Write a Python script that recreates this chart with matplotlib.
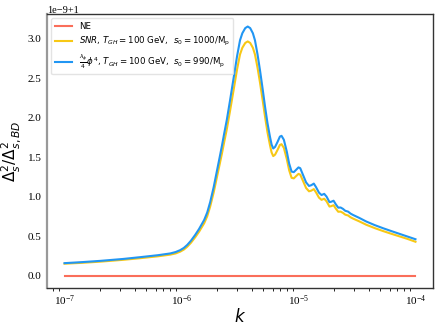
import numpy as np
import matplotlib
matplotlib.use("Agg")
import matplotlib.pyplot as plt

plt.rcParams['font.family'] = 'serif'
plt.rcParams['font.serif'] = ['Liberation Serif', 'DejaVu Serif']
plt.rcParams['mathtext.fontset'] = 'stix'

# log10(k) sample points
log_k = [-7.0, -6.85, -6.693, -6.5, -6.352, -6.2, -6.096, -6.05, -6.011, -5.98,
         -5.951, -5.92, -5.883, -5.85, -5.806, -5.78, -5.755, -5.725, -5.698, -5.675,
         -5.655, -5.635, -5.613, -5.585, -5.557, -5.525, -5.5, -5.48, -5.455, -5.434,
         -5.413, -5.39, -5.372, -5.35, -5.329, -5.307, -5.286, -5.265, -5.244, -5.23,
         -5.216, -5.2, -5.18, -5.159, -5.145, -5.125, -5.1, -5.08, -5.059, -5.04,
         -5.02, -5.0, -4.985, -4.96, -4.935, -4.91, -4.89, -4.869, -4.85, -4.825,
         -4.803, -4.78, -4.76, -4.735, -4.72, -4.7, -4.68, -4.66, -4.64, -4.62,
         -4.6, -4.576, -4.555, -4.534, -4.48, -4.42, -4.35, -4.278, -4.2, -4.136,
         -4.07, -4.0]

# (ratio - 1) / 1e-9
phi4 = [0.157, 0.170, 0.186, 0.210, 0.233, 0.258, 0.280, 0.298, 0.322, 0.350,
        0.388, 0.440, 0.515, 0.590, 0.705, 0.800, 0.930, 1.120, 1.320, 1.490,
        1.640, 1.800, 1.970, 2.220, 2.480, 2.780, 2.980, 3.070, 3.135, 3.155,
        3.135, 3.070, 2.980, 2.800, 2.600, 2.370, 2.140, 1.930, 1.760, 1.660,
        1.610, 1.630, 1.690, 1.760, 1.770, 1.720, 1.570, 1.420, 1.317, 1.310,
        1.340, 1.370, 1.360, 1.270, 1.180, 1.135, 1.145, 1.165, 1.120, 1.050,
        1.020, 1.035, 1.000, 0.930, 0.935, 0.948, 0.900, 0.860, 0.862, 0.845,
        0.820, 0.810, 0.785, 0.768, 0.730, 0.684, 0.640, 0.600, 0.560, 0.528,
        0.495, 0.460]

snr = [0.150, 0.161, 0.176, 0.199, 0.220, 0.244, 0.265, 0.280, 0.303, 0.329,
       0.365, 0.414, 0.485, 0.555, 0.663, 0.752, 0.874, 1.053, 1.241, 1.401,
       1.542, 1.692, 1.852, 2.087, 2.331, 2.613, 2.801, 2.886, 2.947, 2.966,
       2.947, 2.886, 2.801, 2.632, 2.444, 2.228, 2.012, 1.814, 1.654, 1.560,
       1.513, 1.532, 1.589, 1.654, 1.664, 1.617, 1.476, 1.335, 1.238, 1.231,
       1.260, 1.288, 1.278, 1.194, 1.109, 1.067, 1.076, 1.095, 1.053, 0.987,
       0.959, 0.973, 0.940, 0.874, 0.879, 0.891, 0.846, 0.808, 0.810, 0.794,
       0.771, 0.761, 0.738, 0.722, 0.686, 0.643, 0.602, 0.564, 0.526, 0.496,
       0.465, 0.428]

ne_log_k = [-7.0, -4.0]
ne = [0.0, 0.0]

k = np.power(10.0, log_k)
k_ne = np.power(10.0, ne_log_k)

fig = plt.figure(figsize=(4.38, 3.27), dpi=100)
ax = fig.add_axes([0.1073, 0.1193, 0.8813, 0.8377])

ax.plot(k_ne, 1 + np.array(ne) * 1e-9, color='#fa6e5a', lw=1.5,
        label='NE')
ax.plot(k, 1 + np.array(snr) * 1e-9, color='#f7c815', lw=1.5,
        label=r'$SNR$, $T_{GH} = 100$ GeV,  $s_0 = 1000/\mathrm{M_p}$')
ax.plot(k, 1 + np.array(phi4) * 1e-9, color='#2196f3', lw=1.5,
        label=r'$\frac{\lambda_\phi}{4}\phi^4$, $T_{GH} = 100$ GeV,  $s_0 = 990/\mathrm{M_p}$')

ax.set_xscale('log')
ax.tick_params(length=0, labelsize=8, pad=4)
for s in ['top', 'right', 'bottom']:
    ax.spines[s].set_color('#333333')
    ax.spines[s].set_linewidth(1.0)
ax.spines['left'].set_color('#999999')
ax.spines['left'].set_linewidth(1.6)
ax.yaxis.OFFSETTEXTPAD = 1
ax.yaxis.get_offset_text().set_fontsize(7.5)

ax.set_xlabel(r'$k$', fontsize=12, math_fontfamily='dejavusans', labelpad=0)
ax.set_ylabel(r'$\Delta_s^2/\Delta_{s,BD}^2$', fontsize=11,
              math_fontfamily='dejavusans', labelpad=3)

leg = ax.legend(loc='upper left',
                prop={'family': 'DejaVu Sans', 'size': 6.2, 'math_fontfamily': 'dejavusans'})
leg.get_frame().set_edgecolor('#dddddd')

fig.savefig('out.png', dpi=100)
